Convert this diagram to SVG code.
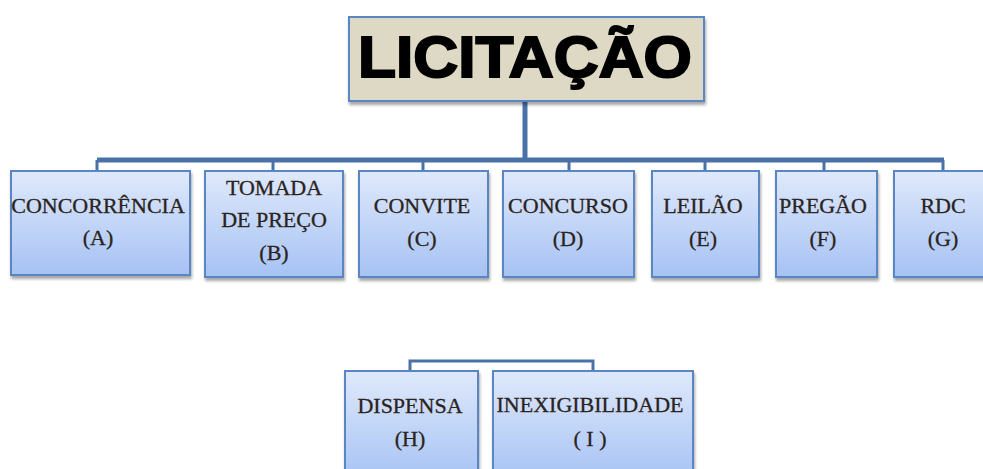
<svg xmlns="http://www.w3.org/2000/svg" width="983" height="469" viewBox="0 0 983 469">
<defs>
<linearGradient id="g" x1="0" y1="0" x2="0" y2="1">
<stop offset="0" stop-color="#dfe9fb"/>
<stop offset="1" stop-color="#a6c2f4"/>
</linearGradient>
<filter id="sh" x="-10%" y="-10%" width="130%" height="130%">
<feGaussianBlur in="SourceAlpha" stdDeviation="1.5"/>
<feOffset dx="1" dy="3"/>
<feComponentTransfer><feFuncA type="linear" slope="0.35"/></feComponentTransfer>
<feMerge><feMergeNode/><feMergeNode in="SourceGraphic"/></feMerge>
</filter>
</defs>
<style>
.box{fill:url(#g);stroke:#5a86c3;stroke-width:2;filter:url(#sh)}
.t{font-family:"Liberation Serif","Times New Roman",serif;font-size:22px;fill:#2a2320;stroke:#2a2320;stroke-width:0.3;text-anchor:middle}
.c{fill:none;stroke:#4a72a8;stroke-linejoin:miter}
</style>
<rect width="983" height="469" fill="#ffffff"/>
<g id="connectors">
<path class="c" stroke-width="5" d="M525,101 V160"/>
<path class="c" stroke-width="5" d="M97,160 H944"/>
<path class="c" stroke-width="3" d="M97,160 V171 M273,160 V171 M423,160 V171 M569,160 V171 M705,160 V171 M824,160 V171 M943,160 V171"/>
<path class="c" stroke-width="3" d="M410,371 V361 H593 V371"/>
</g>
<g id="licitacao">
<rect x="349" y="17" width="355" height="84" fill="#ddd9c4" stroke="#5a86c3" stroke-width="2" filter="url(#sh)"/>
<text x="358" y="77" font-family="'Liberation Sans',Arial,sans-serif" font-weight="bold" font-size="58" fill="#000" stroke="#000" stroke-width="2" textLength="334" lengthAdjust="spacingAndGlyphs">LICITAÇÃO</text>
</g>
<g id="nodeA">
<rect class="box" x="11" y="171" width="179" height="104"/>
<text class="t" x="98" y="213">CONCORRÊNCIA</text>
<text class="t" x="98" y="245">(A)</text>
</g>
<g id="nodeB">
<rect class="box" x="205" y="171" width="138" height="106"/>
<text class="t" x="274" y="195">TOMADA</text>
<text class="t" x="274" y="227">DE PREÇO</text>
<text class="t" x="274" y="260">(B)</text>
</g>
<g id="nodeC">
<rect class="box" x="359" y="171" width="129" height="106"/>
<text class="t" x="422" y="213">CONVITE</text>
<text class="t" x="422" y="246">(C)</text>
</g>
<g id="nodeD">
<rect class="box" x="503" y="171" width="131" height="106"/>
<text class="t" x="568" y="213">CONCURSO</text>
<text class="t" x="568" y="246">(D)</text>
</g>
<g id="nodeE">
<rect class="box" x="652" y="171" width="107" height="106"/>
<text class="t" x="703" y="213">LEILÃO</text>
<text class="t" x="703" y="246">(E)</text>
</g>
<g id="nodeF">
<rect class="box" x="776" y="171" width="101" height="106"/>
<text class="t" x="823" y="213">PREGÃO</text>
<text class="t" x="823" y="246">(F)</text>
</g>
<g id="nodeG">
<rect class="box" x="894" y="171" width="98" height="106"/>
<text class="t" x="943" y="213">RDC</text>
<text class="t" x="943" y="246">(G)</text>
</g>
<g id="nodeH">
<rect class="box" x="345" y="371" width="133" height="110"/>
<text class="t" x="410" y="413">DISPENSA</text>
<text class="t" x="410" y="446">(H)</text>
</g>
<g id="nodeI">
<rect class="box" x="493" y="371" width="200" height="110"/>
<text class="t" x="590" y="412">INEXIGIBILIDADE</text>
<text class="t" x="590" y="446">( I )</text>
</g>
</svg>
